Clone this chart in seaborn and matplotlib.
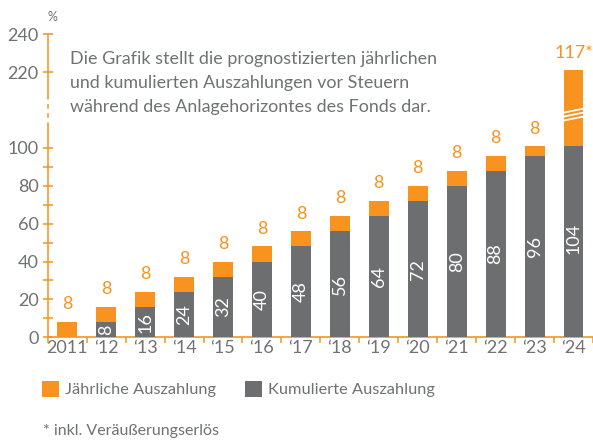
import numpy as np
import pandas as pd
import matplotlib
matplotlib.use("Agg")
import matplotlib.pyplot as plt
import matplotlib.transforms as mtransforms
from matplotlib.patches import Patch
import seaborn as sns

# ---------------- data ----------------
years = ["2011", "‘12", "‘13", "‘14", "‘15", "‘16", "‘17", "‘18", "‘19", "‘20",
         "‘21", "‘22", "‘23", "‘24"]
kumuliert = [0, 8, 16, 24, 32, 40, 48, 56, 64, 72, 80, 88, 96, 104]
jaehrlich = [8, 8, 8, 8, 8, 8, 8, 8, 8, 8, 8, 8, 8, 117]
jaehrlich_labels = ["8"] * 13 + ["117*"]
ytick_vals = [0, 20, 40, 60, 80, 100, 220, 240]
ytick_minor = [10, 30, 50, 70, 90]

ORANGE = "#f7931e"
GRAY = "#6d6e70"
TXT = "#707173"
FS = 13

sns.set_theme(style="white")
plt.rcParams["font.family"] = ["Lato", "DejaVu Sans"]

df = pd.DataFrame({"year": years, "kum": kumuliert, "jahr": jaehrlich})
df["total"] = df["kum"] + df["jahr"]

fig = plt.figure(figsize=(5.93, 4.42), dpi=100)
ax = fig.add_axes([47.7 / 593, 1 - 337.3 / 442, 1 - 47.7 / 593, (337.3 - 34.3) / 442])

sns.barplot(data=df, x="year", y="total", color=ORANGE, saturation=1, linewidth=0,
            width=0.51, errorbar=None, ax=ax, zorder=2)
sns.barplot(data=df, x="year", y="kum", color=GRAY, saturation=1, linewidth=0,
            width=0.51, errorbar=None, ax=ax, zorder=3)


# broken y-axis: 0-100 linear, 100-200 compressed, 200+ shifted
def fwd(v):
    v = np.asarray(v, dtype=float)
    return np.where(v <= 100, v, np.where(v <= 200, 100 + (v - 100) * 0.2, v - 80))


def inv(d):
    d = np.asarray(d, dtype=float)
    return np.where(d <= 100, d, np.where(d <= 120, 100 + (d - 100) * 5, d + 80))


ax.set_yscale("function", functions=(fwd, inv))
ax.set_ylim(0, 240)
ax.set_xlim(-0.5, len(years) - 0.5)

# labels
for i, (k, t, lab) in enumerate(zip(df["kum"], df["total"], jaehrlich_labels)):
    ax.annotate(lab, (i, t), xytext=(0, 7), textcoords="offset points",
                ha="center", va="bottom", color=ORANGE, fontsize=FS,
                annotation_clip=False)
    if k > 0:
        ax.text(i, k / 2, str(k), rotation=90, ha="center", va="center",
                color="white", fontsize=FS, zorder=4)

# break stripes on last bar
bt = mtransforms.blended_transform_factory(ax.transData, ax.transAxes)
n = len(years) - 1
for j in range(3):
    y0 = 0.715 + j * 0.013
    ax.plot([n - 0.27, n + 0.27], [y0, y0 + 0.014], color="white", lw=1.3,
            transform=bt, zorder=5, solid_capstyle="butt")

# axes styling
for s in ["top", "right", "left"]:
    ax.spines[s].set_visible(False)
ax.spines["bottom"].set_color(ORANGE)
ax.spines["bottom"].set_linewidth(1.2)

yt = ax.get_yaxis_transform()
ax.plot([0, 0], [0, 155], color=ORANGE, lw=1.1, transform=yt, clip_on=False, zorder=6)
ax.plot([0, 0], [155, 207], color=ORANGE, lw=1.1, transform=yt, clip_on=False,
        zorder=6, dashes=(3, 3))
ax.plot([0, 0], [207, 240], color=ORANGE, lw=1.1, transform=yt, clip_on=False, zorder=6)

ax.set_yticks(ytick_vals)
ax.set_yticks(ytick_minor, minor=True)
ax.set_yticklabels([str(v) for v in ytick_vals])
ax.tick_params(axis="y", which="both", direction="inout", length=7, width=1.1,
               color=ORANGE, labelcolor=TXT, labelsize=FS, pad=3, left=True)

ax.set_xticks(range(len(years)))
ax.set_xticklabels(years)
ax.set_xticks(np.arange(-0.5, len(years), 1.0), minor=True)
ax.tick_params(axis="x", which="major", length=0, labelcolor=TXT, labelsize=FS, pad=2)
ax.tick_params(axis="x", which="minor", direction="out", length=4.5, width=1.1,
               color=ORANGE, bottom=True)
ax.set_xlabel("")
ax.set_ylabel("")

fig.text(48 / 593, 1 - 17 / 442, "%", color=TXT, fontsize=9, ha="left", va="center")

fig.text(70 / 593, 1 - 51 / 442,
         "Die Grafik stellt die prognostizierten jährlichen\n"
         "und kumulierten Auszahlungen vor Steuern\n"
         "während des Anlagehorizontes des Fonds dar.",
         color=TXT, fontsize=12.85, ha="left", va="top", linespacing=1.62)

LFS = 11.8
handles = [Patch(facecolor=ORANGE, edgecolor="none", label="Jährliche Auszahlung"),
           Patch(facecolor=GRAY, edgecolor="none", label="Kumulierte Auszahlung")]
leg = fig.legend(handles=handles, loc="center left", bbox_to_anchor=(42 / 593, 1 - 389 / 442),
                 ncol=2, frameon=False, fontsize=LFS, handlelength=1.03, handleheight=1.16,
                 handletextpad=0.37, columnspacing=1.75, borderpad=0, borderaxespad=0)
for t in leg.get_texts():
    t.set_color(TXT)

fig.text(43 / 593, 1 - 431 / 442, "* inkl. Veräußerungserlös", color=TXT,
         fontsize=11.5, ha="left", va="center")

fig.savefig("out.png", dpi=100)
